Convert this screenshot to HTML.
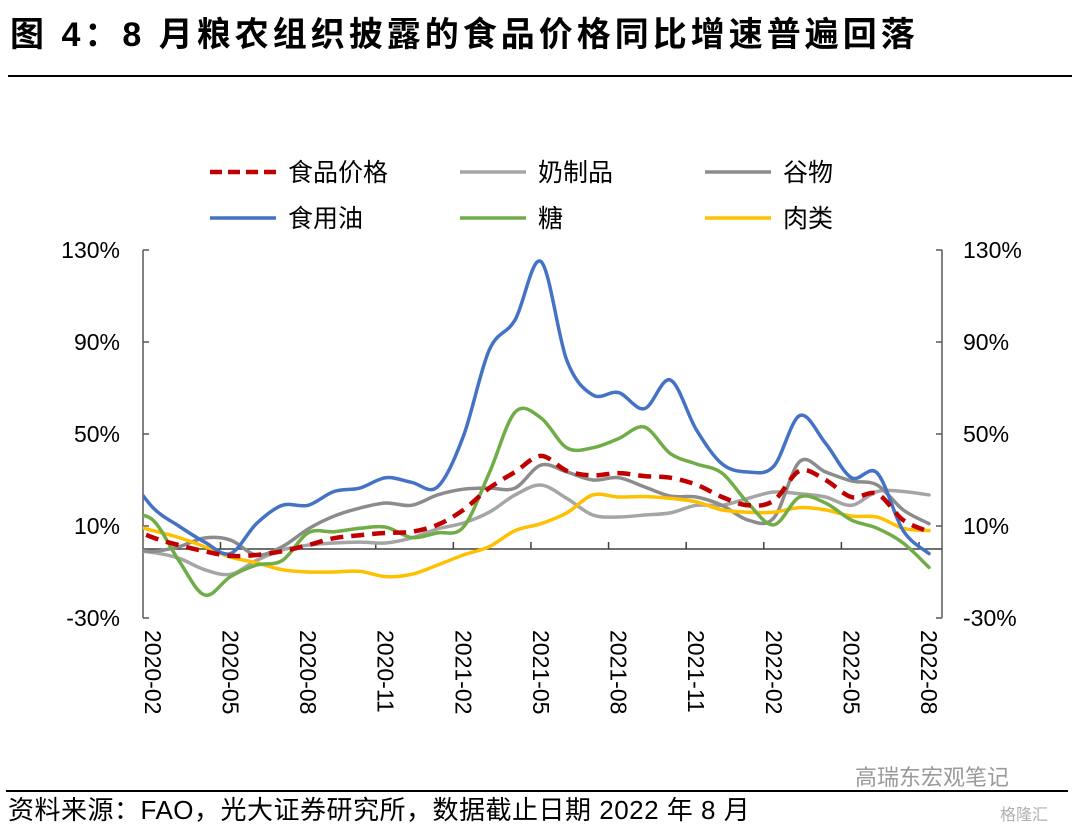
<!DOCTYPE html>
<html><head><meta charset="utf-8">
<style>
html,body{margin:0;padding:0;background:#fff;}
body{width:1080px;height:828px;overflow:hidden;position:relative;font-family:"Liberation Sans","Noto Sans CJK SC",sans-serif;}
svg text{font-family:"Liberation Sans","Noto Sans CJK SC",sans-serif;}
</style></head>
<body>
<svg id="chart" width="1080" height="828" xmlns="http://www.w3.org/2000/svg">
  <text x="10" y="46" font-size="34" font-weight="bold" letter-spacing="4" fill="#000">图 4：8 月粮农组织披露的食品价格同比增速普遍回落</text>
  <line x1="8" y1="76" x2="1072" y2="76" stroke="#000" stroke-width="2"/>
  <g id="legend"></g>
  <defs><clipPath id="plotclip"><rect x="143" y="230" width="800" height="400"/></clipPath></defs>
  <g id="axes"></g>
  <g id="series" clip-path="url(#plotclip)"></g>
  <line x1="6" y1="791" x2="1068" y2="791" stroke="#000" stroke-width="2"/>
  <text x="855" y="785" font-size="22" fill="#9a9a9a">高瑞东宏观笔记</text>
  <text x="8" y="819" font-size="26" letter-spacing="0.5" fill="#000">资料来源：FAO，光大证券研究所，数据截止日期 2022 年 8 月</text>
  <text x="1000" y="820" font-size="16" fill="#b0b0b0">格隆汇</text>
</svg>
<script>
const months = ["2020-01","2020-02","2020-03","2020-04","2020-05","2020-06","2020-07","2020-08","2020-09","2020-10","2020-11","2020-12","2021-01","2021-02","2021-03","2021-04","2021-05","2021-06","2021-07","2021-08","2021-09","2021-10","2021-11","2021-12","2022-01","2022-02","2022-03","2022-04","2022-05","2022-06","2022-07","2022-08"];
const tickLabels = ["2020-02","2020-05","2020-08","2020-11","2021-02","2021-05","2021-08","2021-11","2022-02","2022-05","2022-08"];
const yTicks = [130, 90, 50, 10, -30];
const foodPrice = [10,5,1.7,-1,-3,-2.6,-1,1.7,4.7,6,7,7.5,10.5,17,26.5,33.5,40.5,34,32,33,31.7,31,28,22.6,19,21,34,30,22.6,24,12.6,7.5];
const dairy = [-0.5,-1.5,-4,-9,-11,-5,-0.4,1.7,2.6,3,2.6,4.8,8.7,11.3,16,23.5,27.8,22,14.8,13.9,14.8,15.7,19,19,22,24.8,24,22.6,19,25,25,23.5];
const cereals = [0.5,-1,1,4.8,3.9,-2.6,1,8.7,14.3,17.8,20,19,23.5,26,26.5,26.5,36.5,33.5,30,31,27,23,22.6,19,12.6,13.5,38,33.5,29.6,27.8,17,11];
const vegOil = [33,18,10,3,-2,11,19,19,25,26.5,31,29,27,49,86.5,99.6,125,82,67,68,61,73.5,52,37,33.5,36,58,46,31,33,8,-2];
const sugar = [15,12.6,-5,-20,-12,-7,-5,7,7.5,9,9.5,5,7,9.5,33,59.5,57,44,44,48,53,41.5,37,33,20,10.5,22.6,20,12.6,9,2.6,-8];
const meat = [11,8,5,1,-3.5,-6,-9,-10,-10,-9.7,-12,-11,-7,-2.6,1,8,11,15.7,23.5,22.6,22.8,22,20.5,17,16,16,18,17,14.3,13.9,9,8];

const NS = "http://www.w3.org/2000/svg";
const step = 25.87;
const xOf = i => 929 - (months.length - 1 - i) * step;
const yOf = v => 549 - v * 2.3;
function mk(tag, attrs, parent){const e=document.createElementNS(NS,tag);for(const k in attrs)e.setAttribute(k,attrs[k]);parent.appendChild(e);return e;}

const axes = document.getElementById('axes');
let el;
el = mk('line',{x1:143,y1:250,x2:143,y2:618,stroke:'#595959','stroke-width':1.5},axes);


el = mk('line',{x1:942,y1:250,x2:942,y2:618,stroke:'#595959','stroke-width':1.5},axes);


el = mk('line',{x1:143,y1:yOf(0),x2:942,y2:yOf(0),stroke:'#404040','stroke-width':1.5},axes);


yTicks.forEach(v=>{
  const y=yOf(v);
  mk('line',{x1:143,y1:y,x2:149,y2:y,stroke:'#595959','stroke-width':1.5},axes);
  mk('line',{x1:936,y1:y,x2:942,y2:y,stroke:'#595959','stroke-width':1.5},axes);
  const t1=mk('text',{x:120,y:y+8,'font-size':23,'text-anchor':'end',fill:'#000'},axes);
  t1.textContent=v+'%';
  
  
  const t2=mk('text',{x:963,y:y+8,'font-size':23,'text-anchor':'start',fill:'#000'},axes);
  t2.textContent=v+'%';
  
  
});
tickLabels.forEach(lab=>{
  const i=months.indexOf(lab);
  const x=xOf(i);
  if(i>1) mk('line',{x1:x-10,y1:yOf(0),x2:x-10,y2:yOf(0)-7,stroke:'#404040','stroke-width':1.5},axes);
  const t=mk('text',{x:0,y:0,'font-size':23,fill:'#000',transform:`translate(${x-8},630) rotate(90)`},axes);
  t.textContent=lab;
  
  
});

function pathD(vals){
  const p=vals.map((v,i)=>[xOf(i),yOf(v)]);
  let d=`M${p[0][0]},${p[0][1]}`;
  for(let i=0;i<p.length-1;i++){
    const p0=p[Math.max(0,i-1)],p1=p[i],p2=p[i+1],p3=p[Math.min(p.length-1,i+2)];
    const c1=[p1[0]+(p2[0]-p0[0])/6,p1[1]+(p2[1]-p0[1])/6];
    const c2=[p2[0]-(p3[0]-p1[0])/6,p2[1]-(p3[1]-p1[1])/6];
    d+=` C${c1[0]},${c1[1]} ${c2[0]},${c2[1]} ${p2[0]},${p2[1]}`;
  }
  return d;
}
const seriesG=document.getElementById('series');
const legendG=document.getElementById('legend');
const defs=[
  {vals:dairy,color:'#a5a5a5',name:'奶制品',dash:null,key:'dairy',lx:460,ly:172},
  {vals:cereals,color:'#8c8c8c',name:'谷物',dash:null,key:'cereals',lx:705,ly:172},
  {vals:meat,color:'#ffc000',name:'肉类',dash:null,key:'meat',lx:705,ly:218},
  {vals:sugar,color:'#70ad47',name:'糖',dash:null,key:'sugar',lx:460,ly:218},
  {vals:vegOil,color:'#4472c4',name:'食用油',dash:null,key:'vegetable-oil',lx:210,ly:218},
  {vals:foodPrice,color:'#c00000',name:'食品价格',dash:'13 8',key:'food-price',lx:210,ly:172}
];
defs.forEach(s=>{
  const p=mk('path',{d:pathD(s.vals),fill:'none',stroke:s.color,'stroke-width':s.dash?4.5:3.5,'stroke-linejoin':'round','stroke-linecap':s.dash?'butt':'round'},seriesG);
  if(s.dash)p.setAttribute('stroke-dasharray',s.dash);
  
  
  const ll=mk('line',{x1:s.lx,y1:s.ly,x2:s.lx+66,y2:s.ly,stroke:s.color,'stroke-width':s.dash?4.5:3.5},legendG);
  if(s.dash)ll.setAttribute('stroke-dasharray','12 6');
  
  
  const t=mk('text',{x:s.lx+78,y:s.ly+9,'font-size':25,fill:'#000'},legendG);
  t.textContent=s.name;
  
  
});
</script>
</body></html>
